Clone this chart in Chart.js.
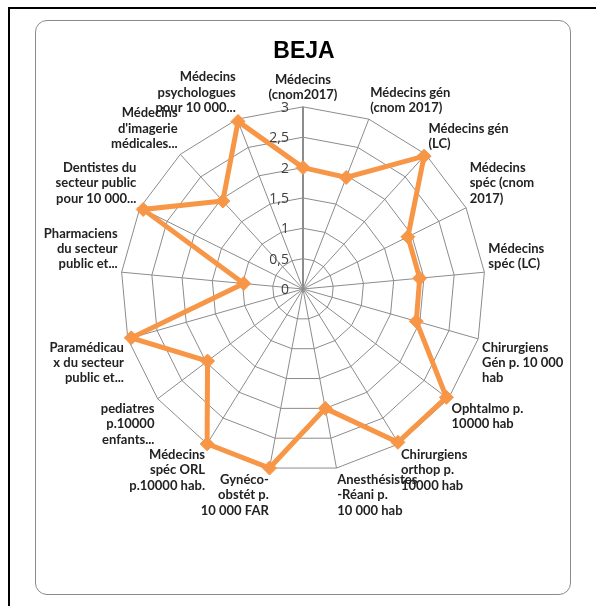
<!DOCTYPE html>
<html>
<head>
<meta charset="utf-8">
<script src="https://cdn.jsdelivr.net/npm/chart.js@4/dist/chart.umd.min.js"></script>
<style>
  body { margin: 0; background: #fff; }
  #frame { position: absolute; left: 8px; top: 7px; width: 600px; height: 610px;
           border-top: 2px solid #000; border-left: 2px solid #000; }
  #box { position: absolute; left: 35px; top: 20px; width: 534px; height: 573px;
         border: 1px solid #8a8a8a; border-radius: 12px; background: #fff; }
  #wrap { position: absolute; left: 37px; top: 21px; width: 534px; height: 502px; }
</style>
</head>
<body>
<div id="frame"></div>
<div id="box"></div>
<div id="wrap"><canvas id="radar-chart"></canvas></div>
<script>
const categories = [
    ["Médecins", "(cnom2017)"],
    ["Médecins gén", "(cnom 2017)"],
    ["Médecins gén", "(LC)"],
    ["Médecins", "spéc (cnom", "2017)"],
    ["Médecins", "spéc (LC)"],
    ["Chirurgiens", "Gén p. 10 000", "hab"],
    ["Ophtalmo p.", "10000 hab"],
    ["Chirurgiens", "orthop p.", "10000 hab"],
    ["Anesthésistes", "-Réani p.", "10 000 hab"],
    ["Gynéco-", "obstét p.", "10 000 FAR"],
    ["Médecins", "spéc ORL", "p.10000 hab."],
    ["pediatres", "p.10000", "enfants..."],
    ["Paramédicau", "x du secteur", "public et..."],
    ["Pharmaciens", "du secteur", "public et..."],
    ["Dentistes du", "secteur public", "pour 10 000..."],
    ["Médecins", "d'imagerie", "médicales..."],
    ["Médecins", "psychologues", "pour 10 000..."]
];
const bejaValues = [2.0, 1.97, 2.96, 1.93, 1.93, 1.94, 2.96, 2.97, 2.0, 3.0, 3.0, 1.97, 2.94, 0.98, 2.94, 1.96, 2.96];
const tickValues = [0, 0.5, 1, 1.5, 2, 2.5, 3];
const tickLabels = ["0", "0,5", "1", "1,5", "2", "2,5", "3"];

// ticks drawn left of the vertical axis, like the Excel original
const tickPlugin = {
    id: 'leftTicks',
    afterDatasetsDraw(chart) {
        const scale = chart.scales.r;
        const ctx = chart.ctx;
        ctx.save();
        ctx.font = '14px "Open Sans", sans-serif';
        ctx.fillStyle = '#404040';
        ctx.textAlign = 'right';
        ctx.textBaseline = 'middle';
        for (let i = 0; i < tickValues.length; i++) {
            const d = scale.getDistanceFromCenterForValue(tickValues[i]);
            ctx.fillText(tickLabels[i], scale.xCenter - 14, scale.yCenter - d + 1);
        }
        ctx.restore();
    }
};

new Chart(document.getElementById("radar-chart"), {
    type: 'radar',
    data: {
        labels: categories,
        datasets: [
            {
                label: "BEJA",
                data: bejaValues,
                fill: false,
                borderColor: '#F79646',
                backgroundColor: '#F79646',
                borderWidth: 5,
                pointStyle: 'rectRot',
                pointRadius: 7,
                pointBorderWidth: 1,
                pointBackgroundColor: '#F79646',
                pointBorderColor: '#F79646'
            }
        ]
    },
    options: {
        responsive: true,
        maintainAspectRatio: false,
        animation: false,
        layout: { padding: 0 },
        plugins: {
            legend: { display: false },
            tooltip: { enabled: false },
            title: {
                display: true,
                text: 'BEJA',
                color: '#000',
                font: { family: '"Liberation Sans Narrow", sans-serif', size: 23, weight: 'bold' },
                padding: { top: 17, bottom: 0 }
            }
        },
        scales: {
            r: {
                min: 0,
                max: 3,
                ticks: { stepSize: 0.5, display: false },
                grid: { color: '#8c8c8c', lineWidth: 1 },
                angleLines: {
                    color: '#8c8c8c',
                    lineWidth: (c) => c.index === 0 ? 2 : 1
                },
                pointLabels: {
                    color: '#222',
                    padding: 4,
                    font: { family: 'Lato, sans-serif', size: 13, weight: 'bold', lineHeight: 1.18 }
                }
            }
        }
    },
    plugins: [tickPlugin]
});
</script>
</body>
</html>
